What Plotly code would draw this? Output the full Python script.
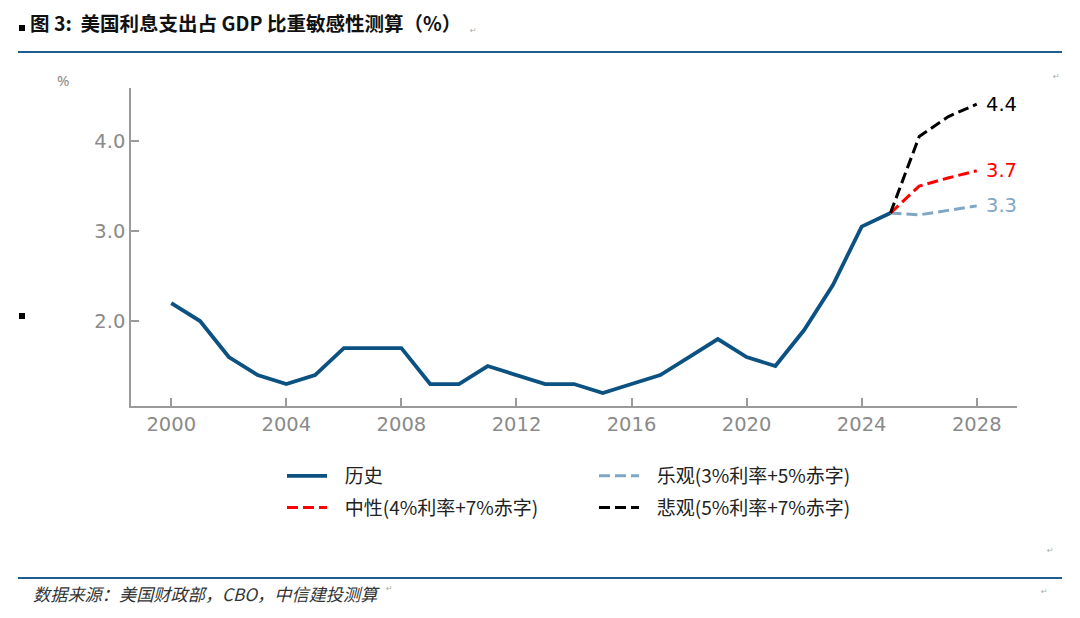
import plotly.graph_objects as go

# data
years_hist = list(range(2000, 2026))
hist = [2.2, 2.0, 1.6, 1.4, 1.3, 1.4, 1.7, 1.7, 1.7, 1.3, 1.3, 1.5, 1.4,
        1.3, 1.3, 1.2, 1.3, 1.4, 1.6, 1.8, 1.6, 1.5, 1.9, 2.4, 3.05, 3.2]
years_proj = [2025, 2026, 2027, 2028]
optimistic = [3.2, 3.18, 3.23, 3.28]
neutral = [3.2, 3.5, 3.59, 3.67]
pessimistic = [3.2, 4.05, 4.27, 4.41]

names = ["历史", "中性(4%利率+7%赤字)", "乐观(3%利率+5%赤字)", "悲观(5%利率+7%赤字)"]
x_ticks = [2000, 2004, 2008, 2012, 2016, 2020, 2024, 2028]
y_ticks = [2.0, 3.0, 4.0]

title = "图 3:  美国利息支出占 GDP 比重敏感性测算（%）"
source = "数据来源：美国财政部，CBO，中信建投测算"

BLUE = "#0b5282"
LIGHT = "#7fa7c5"
GREY = "#8a8a8a"

# the page body has an 8px margin, so the figure sits at (8, 8)
OFF = 8
FW, FH = 1080 - 2 * OFF, 618 - 2 * OFF
# plot area in screen pixels, used to place page decorations
L, R, T, B = 131, 1017, 88, 406
W, H = R - L, B - T


def px(x):
    return (x - L) / W


def py(y):
    return (B - y) / H


pad = "\u00a0" * 3

fig = go.Figure()
fig.add_trace(go.Scatter(x=years_hist, y=hist, mode="lines", name=pad + names[0],
                         line=dict(color=BLUE, width=3.8), legend="legend", legendgroup="a"))
fig.add_trace(go.Scatter(x=years_proj, y=optimistic, mode="lines", name=pad + names[2],
                         line=dict(color=LIGHT, width=3, dash="11px,5px"), legend="legend2",
                         legendgroup="c"))
fig.add_trace(go.Scatter(x=years_proj, y=neutral, mode="lines", name=pad + names[1],
                         line=dict(color="#ff0000", width=3, dash="11px,5px"), legend="legend",
                         legendgroup="b"))
fig.add_trace(go.Scatter(x=years_proj, y=pessimistic, mode="lines", name=pad + names[3],
                         line=dict(color="#000000", width=3, dash="11px,5px"), legend="legend2",
                         legendgroup="d"))

# end-of-line value labels
for vals, col in [(pessimistic, "#000000"), (neutral, "#ff0000"), (optimistic, LIGHT)]:
    fig.add_annotation(x=years_proj[-1], y=vals[-1], text=f"{vals[-1]:.1f}",
                       xanchor="left", yanchor="middle", xshift=7, showarrow=False,
                       font=dict(family="DejaVu Sans", size=19.5, color=col))

# page decorations: title, rules, source, unit
fig.add_annotation(x=px(29), y=py(22), xref="paper", yref="paper", text="<b>" + title + "</b>",
                   xanchor="left", yanchor="middle", showarrow=False, borderpad=0,
                   font=dict(family="Noto Sans CJK SC", size=19.5, color="#111111"))
fig.add_annotation(x=px(63), y=py(80), xref="paper", yref="paper", text="%",
                   xanchor="center", yanchor="middle", showarrow=False,
                   font=dict(family="Liberation Sans Narrow, Noto Sans", size=15, color=GREY))
fig.add_annotation(x=px(31), y=py(593), xref="paper", yref="paper", text="<i>" + source + "</i>",
                   xanchor="left", yanchor="middle", showarrow=False,
                   font=dict(family="Noto Sans CJK SC", size=17.2, color="#333333"))
for mx, my in [(473, 24), (1062, 70), (1056, 557), (384, 595), (1050, 598)]:
    fig.add_annotation(x=px(mx), y=py(my), xref="paper", yref="paper", text="↵",
                       showarrow=False, font=dict(family="DejaVu Sans", size=8, color="#aaaaaa"))
for y0 in (52, 578):
    fig.add_shape(type="line", xref="paper", yref="paper", x0=px(18), x1=px(1062),
                  y0=py(y0), y1=py(y0), line=dict(color="#1f5d8e", width=2))
for cx, cy in [(22, 28), (22, 316)]:
    fig.add_shape(type="rect", xref="paper", yref="paper", x0=px(cx - 3), x1=px(cx + 3),
                  y0=py(cy + 3), y1=py(cy - 3), fillcolor="#000000", line=dict(width=0))

axis_common = dict(showgrid=False, zeroline=False, showline=True, linecolor="#9a9a9a",
                   linewidth=1.5, ticks="inside", ticklen=8, tickcolor="#9a9a9a",
                   tickwidth=1.5, tickfont=dict(family="DejaVu Sans", size=19.5, color=GREY))

legend_font = dict(family="Noto Sans CJK SC", size=19, color="#222222")

fig.update_layout(
    width=FW, height=FH,
    margin=dict(l=L - OFF, r=FW + OFF - R, t=T - OFF, b=FH + OFF - B),
    paper_bgcolor="white", plot_bgcolor="white",
    xaxis=dict(range=[1998.6, 2029.4], tickvals=x_ticks, **axis_common),
    yaxis=dict(range=[1.056, 4.59], tickvals=y_ticks,
               ticktext=[f"{v:.1f}" for v in y_ticks], **axis_common),
    legend=dict(x=px(282), y=py(457), xanchor="left", yanchor="top",
                font=legend_font, itemwidth=40, tracegroupgap=4, bgcolor="rgba(0,0,0,0)"),
    legend2=dict(x=px(594), y=py(457), xanchor="left", yanchor="top",
                 font=legend_font, itemwidth=40, tracegroupgap=4, bgcolor="rgba(0,0,0,0)"),
)

fig.write_html("out.html")
